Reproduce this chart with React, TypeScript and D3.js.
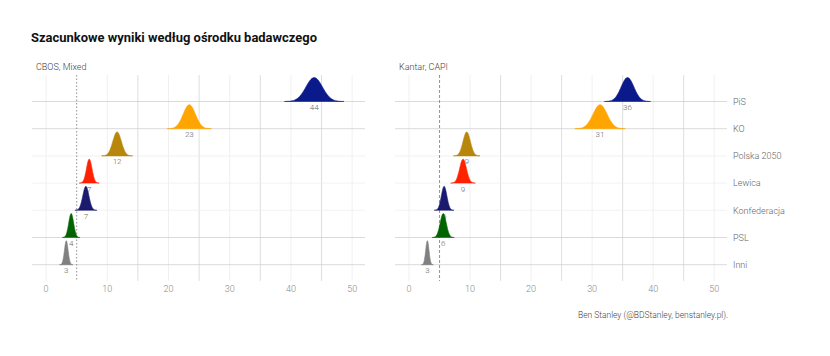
import React from "react";
import * as d3 from "d3";

const parties = ["PiS", "KO", "Polska 2050", "Lewica", "Konfederacja", "PSL", "Inni"];
const colors = ["#0b1a8a", "#ffa500", "#b8860b", "#ff2200", "#1a1a6e", "#006400", "#808080"];
const panels = ["CBOS, Mixed", "Kantar, CAPI"];
const cbosMean = [43.8, 23.4, 11.6, 7.05, 6.5, 4.1, 3.3];
const cbosSd = [1.35, 1.0, 0.7, 0.45, 0.5, 0.4, 0.3];
const cbosLabel = ["44", "23", "12", "7", "7", "4", "3"];
const kantarMean = [35.8, 31.3, 9.45, 8.85, 5.75, 5.6, 3.0];
const kantarSd = [1.05, 1.15, 0.6, 0.56, 0.45, 0.5, 0.27];
const kantarLabel = ["36", "31", "9", "9", "6", "6", "3"];
const xTicks = [0, 10, 20, 30, 40, 50];
const xMinor = [15, 25, 35, 45];
const threshold = 5;

const panelData = [
  { title: panels[0], means: cbosMean, sds: cbosSd, labels: cbosLabel, x0: 32, x1: 365, dash: "1.5,2" },
  { title: panels[1], means: kantarMean, sds: kantarSd, labels: kantarLabel, x0: 395, x1: 727, dash: "3,2" },
];

const panelTop = 75;
const panelBottom = 281;

export default function App() {
  const y = d3.scalePoint<string>().domain(parties).range([101.5, 264.7]);
  const ridgeH = 24;
  const heavyRows = new Set(["PiS", "KO", "PSL", "Inni"]);
  return (
    <svg width={830} height={356} style={{ position: "absolute", left: 0, top: 0, background: "#fff" }} fontFamily="Roboto, sans-serif">
      <text x={31} y={42} fontSize={13} fontWeight="bold" fill="#111" textLength={286} lengthAdjust="spacingAndGlyphs">
        Szacunkowe wyniki według ośrodku badawczego
      </text>
      {panelData.map((p, pi) => {
        const x = d3.scaleLinear().domain([-2.3, 52.1]).range([p.x0, p.x1]);
        return (
          <g key={pi}>
            <text x={p.x0 + 4} y={69.5} fontSize={9} fontWeight={300} fill="#444">{p.title}</text>
            {xTicks.map((t) => (
              <line key={"g" + t} x1={x(t)} x2={x(t)} y1={panelTop} y2={panelBottom} stroke="#ececec" strokeWidth={0.8} />
            ))}
            {xMinor.map((t) => (
              <line key={"m" + t} x1={x(t)} x2={x(t)} y1={panelTop} y2={panelBottom} stroke="#d6d6d6" strokeWidth={0.8} />
            ))}
            {parties.map((party) => (
              <line key={"h" + party} x1={p.x0} x2={p.x1} y1={y(party)} y2={y(party)} stroke={heavyRows.has(party) ? "#d0d0d0" : "#efefef"} strokeWidth={0.8} />
            ))}
            <line x1={x(threshold)} x2={x(threshold)} y1={panelTop} y2={panelBottom} stroke="#777" strokeWidth={0.8} strokeDasharray={p.dash} />
            {parties.map((party, i) => {
              const m = p.means[i];
              const s = p.sds[i];
              const pts = d3.range(-3.6, 3.601, 0.1).map((z) => ({ v: m + z * s, d: Math.exp(-0.5 * z * z) }));
              const base = y(party)!;
              const area = d3
                .area<{ v: number; d: number }>()
                .x((d) => x(d.v))
                .y0(base)
                .y1((d) => base - d.d * ridgeH)
                .curve(d3.curveBasis);
              return (
                <g key={party}>
                  <path d={area(pts)!} fill={colors[i]} stroke={colors[i]} strokeWidth={0.6} />
                  <text x={x(m)} y={base + 8.5} fontSize={8} fontWeight={300} textAnchor="middle" fill="#666">{p.labels[i]}</text>
                </g>
              );
            })}
            {xTicks.map((t) => (
              <text key={"t" + t} x={x(t)} y={291.5} fontSize={9} fontWeight={300} textAnchor="middle" fill="#888">{t}</text>
            ))}
          </g>
        );
      })}
      {parties.map((party) => (
        <text key={"yl" + party} x={733} y={y(party)! + 3.2} fontSize={9} fontWeight={300} fill="#666">{party}</text>
      ))}
      <text x={728} y={318} fontSize={8.3} fontWeight={300} textAnchor="end" fill="#444" textLength={150} lengthAdjust="spacingAndGlyphs">Ben Stanley (@BDStanley, benstanley.pl).</text>
    </svg>
  );
}
